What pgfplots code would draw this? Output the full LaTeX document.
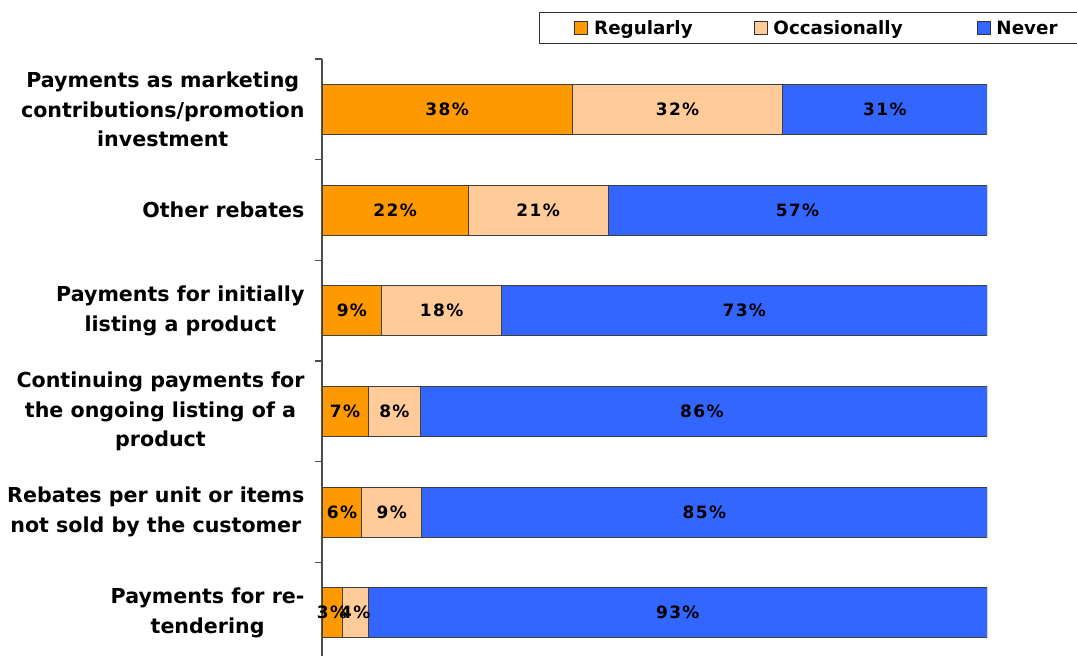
\documentclass[border=0pt]{standalone}
\usepackage{fontspec}
\setmainfont{DejaVu Sans}
\newfontfamily\labfont{DejaVu Sans}[LetterSpace=8]
\usepackage{pgfplots}
\pgfplotsset{compat=1.18}
\definecolor{creg}{HTML}{FF9900}
\definecolor{cocc}{HTML}{FFCC99}
\definecolor{cnev}{HTML}{3366FF}
\begin{document}
\begin{tikzpicture}
\useasboundingbox (0pt,0pt) rectangle (1077pt,656pt);
\pgfplotsset{legsq/.style={legend image code/.code={\draw[##1,draw=black!80,line width=0.8pt] (0pt,-6.5pt) rectangle (13pt,6.5pt);}},
  legsqfirst/.style={legend image code/.code={\path (-17pt,0pt); \draw[##1,draw=black!80,line width=0.8pt] (0pt,-6.5pt) rectangle (13pt,6.5pt);}}}
\begin{axis}[
  at={(322pt,-7pt)}, anchor=south west,
  scale only axis, width=665pt, height=604pt,
  xmin=0, xmax=100, ymin=-0.5, ymax=5.5, y dir=reverse,
  xbar stacked, bar width=50pt,
  axis x line=none, axis y line*=left,
  axis line style={-, draw=black!70, line width=1.2pt},
  ytick={0,...,5},
  yticklabels={{Payments as marketing\\contributions/promotion\\investment},{Other rebates},{Payments for initially\\listing a product},{Continuing payments for\\the ongoing listing of a\\product},{Rebates per unit or items\\not sold by the customer},{Payments for re-\\tendering}},
  major tick length=0pt,
  minor ytick={-0.5,0.5,...,5.5},
  minor tick length=7pt,
  tick align=outside,
  minor tick style={draw=black!70, line width=1.2pt},
  yticklabel style={font=\fontsize{20.6}{29.5}\selectfont\bfseries, align=center, xshift=-14pt},
  legend columns=3,
  legend cell align=left,
  legend style={at={(axis description cs:0.32632,1.0778)}, anchor=north west,
    draw=black!80, line width=0.8pt, font=\fontsize{18.3}{21}\selectfont\bfseries,
    inner xsep=18pt, inner ysep=6pt,
    /tikz/every odd column/.append style={column sep=4pt},
    /tikz/column 2/.style={column sep=59pt},
    /tikz/column 4/.style={column sep=72pt}},
]
\addplot[fill=creg, draw=black!75, line width=0.8pt, legsqfirst] coordinates {(37.62,0) (22,1) (9,2) (6.93,3) (6,4) (3,5)};
\addplot[fill=cocc, draw=black!75, line width=0.8pt, legsq] coordinates {(31.68,0) (21,1) (18,2) (7.92,3) (9,4) (4,5)};
\addplot[fill=cnev, draw=black!75, line width=0.8pt, legsq] coordinates {(30.69,0) (57,1) (73,2) (85.15,3) (85,4) (93,5)};
\legend{Regularly,Occasionally,Never}
\end{axis}
\begin{axis}[
  at={(322pt,-7pt)}, anchor=south west,
  scale only axis, width=665pt, height=604pt,
  xmin=0, xmax=100, ymin=-0.5, ymax=5.5, y dir=reverse,
  hide axis,
]
\addplot[only marks, mark=*, mark size=0pt, draw=none, nodes near coords, point meta=explicit symbolic,
  every node near coord/.append style={anchor=center, font=\labfont\fontsize{17}{20}\selectfont\bfseries, text=black, inner sep=0pt}]
  table[meta=lab] {
x y lab
18.81 0 38\%
53.47 0 32\%
84.65 0 31\%
11 1 22\%
32.5 1 21\%
71.5 1 57\%
4.5 2 9\%
18 2 18\%
63.5 2 73\%
3.47 3 7\%
10.89 3 8\%
57.13 3 86\%
3 4 6\%
10.5 4 9\%
57.5 4 85\%
1.5 5 3\%
5 5 4\%
53.5 5 93\%
};
\end{axis}
\end{tikzpicture}
\end{document}
